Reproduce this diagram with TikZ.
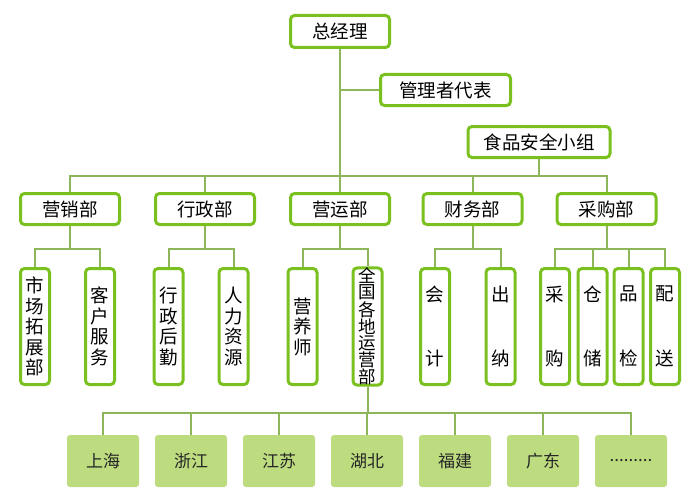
\documentclass[tikz,border=0pt]{standalone}
\usepackage{fontspec}
\setmainfont{Noto Sans CJK SC}
\usepackage{tikz}
\usetikzlibrary{positioning}
\definecolor{boxgreen}{HTML}{7AC11F}
\definecolor{linkgreen}{HTML}{8DB55A}
\definecolor{cityfill}{HTML}{BDDC80}

\tikzset{
  orgbox/.style={draw=boxgreen, line width=3pt, rounded corners=4pt, fill=white,
                 inner sep=0pt, align=center, font=\fontsize{18.5}{20.5}\selectfont},
  topbox/.style={orgbox, minimum height=31pt},
  deptbox/.style={orgbox, minimum width=99pt, minimum height=31pt},
  subbox/.style={orgbox, minimum width=29pt, minimum height=116pt},
  citybox/.style={fill=cityfill, rounded corners=3pt, minimum width=72pt, minimum height=52pt,
                  inner sep=0pt, text=black!85, font=\fontsize{17}{18}\selectfont},
  link/.style={draw=linkgreen, line width=2pt},
}

\begin{document}
\begin{tikzpicture}[x=1pt, y=-1pt]
    \useasboundingbox (0,0) rectangle (700,500);

    % top of the chart
    \node[topbox, minimum width=99pt, minimum height=32pt] (gm) at (340,31.5) {总经理};
    \node[topbox, minimum width=130pt] (rep) at (445.5,90) {管理者代表};
    \node[topbox, minimum width=142pt] (food) at (539,142) {食品安全小组};

    % departments
    \node[deptbox] (d1) at (70,209)    {营销部};
    \node[deptbox] (d2) at (205,209)   {行政部};
    \node[deptbox] (d3) at (340,209)   {营运部};
    \node[deptbox] (d4) at (472.5,209) {财务部};
    \node[deptbox] (d5) at (606.5,209) {采购部};

    % sections
    \node[subbox] (s11) at (35,326.5)    {市\\场\\拓\\展\\部};
    \node[subbox] (s12) at (100,326.5)   {客\\户\\服\\务};
    \node[subbox] (s21) at (168.5,326.5) {行\\政\\后\\勤};
    \node[subbox] (s22) at (233.5,326.5) {人\\力\\资\\源};
    \node[subbox] (s31) at (302.5,326.5) {营\\养\\师};
    \node[subbox, font=\fontsize{17.5}{16}\selectfont] (s32) at (367.5,326.5)
        {全\\国\\各\\地\\运\\营\\部};
    \node[subbox] (s41) at (435,326.5)   {会\\[44pt]计};
    \node[subbox] (s42) at (500.5,326.5) {出\\[44pt]纳};
    \node[subbox] (s51) at (555,326.5)   {采\\[44pt]购};
    \node[subbox] (s52) at (592.5,326.5) {仓\\[44pt]储};
    \node[subbox] (s53) at (628.5,326.5) {品\\[44pt]检};
    \node[subbox] (s54) at (665,326.5)   {配\\[44pt]送};

    % regions
    \node[citybox] (c1) at (103,461) {上海};
    \node[citybox] (c2) at (191,461) {浙江};
    \node[citybox] (c3) at (279,461) {江苏};
    \node[citybox] (c4) at (367,461) {湖北};
    \node[citybox] (c5) at (455,461) {福建};
    \node[citybox] (c6) at (543,461) {广东};
    \node[citybox] (c7) at (631,461) {.........};

    % bus levels
    \coordinate (busA) at (0,176);
    \coordinate (busB) at (0,249);
    \coordinate (busC) at (0,413);

    % connectors
    \draw[link] (gm) -- (d3);
    \draw[link] (rep.west) -- (rep.west -| gm.south);
    \draw[link] (food) -- (food |- busA);
    \foreach \d in {d1,d2,d4,d5}
        \draw[link] (gm) |- (\d |- busA) -- (\d);
    \foreach \d/\s in {d1/s11, d1/s12, d2/s21, d2/s22, d3/s31, d3/s32,
                       d4/s41, d4/s42, d5/s51, d5/s52, d5/s53, d5/s54}
        \draw[link] (\d) |- (\s |- busB) -- (\s);
    \foreach \c in {c1,c2,c3,c4,c5,c6,c7}
        \draw[link] (s32) |- (\c |- busC) -- (\c);
\end{tikzpicture}
\end{document}
